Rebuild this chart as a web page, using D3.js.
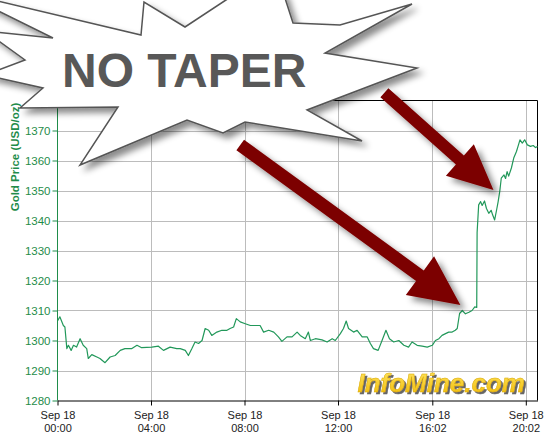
<!DOCTYPE html>
<html>
<head>
<meta charset="utf-8">
<script src="https://cdn.jsdelivr.net/npm/d3@7"></script>
<style>
  body { margin: 0; background: #fff; }
  svg { display: block; font-family: "Liberation Sans", Arial, sans-serif; }
</style>
</head>
<body>
<svg id="chart" width="560" height="437"></svg>
<script>
// gold price, Sep 18 (USD/oz)
var day = "2013-09-18";
var times = ["00:00","00:06","00:15","00:19","00:24","00:28","00:35","00:41","00:49","00:58",
  "01:06","01:15","01:19","01:28","01:41","01:49","02:02","02:15","02:28","02:41","02:53",
  "03:11","03:24","03:36","04:02","04:19","04:32","04:49","05:06","05:15","05:28","05:36",
  "05:45","05:53","06:02","06:11","06:19","06:28","06:36","06:49","07:02","07:15","07:23",
  "07:32","07:39","07:49","08:02","08:15","08:27","08:40","08:49","09:02","09:15","09:27",
  "09:36","09:49","10:02","10:15","10:23","10:36","10:44","10:49","11:02","11:19","11:32",
  "11:45","11:53","12:06","12:14","12:21","12:27","12:40","12:49","13:02","13:15","13:23",
  "13:31","13:43","13:53","14:03","14:12","14:23","14:36","14:49","15:01","15:10","15:23",
  "15:36","15:49","16:02","16:10","16:19","16:27","16:36","16:44","16:53","17:01","17:06",
  "17:12","17:19","17:27","17:36","17:44","17:51","17:56","17:57","18:01","18:06","18:10",
  "18:16","18:21","18:27","18:33","18:37","18:42","18:47","18:51","18:55","18:59","19:06",
  "19:10","19:14","19:18","19:25","19:31","19:38","19:42","19:47","19:53","19:59","20:06",
  "20:14","20:21","20:27","20:32"];
var prices = [1306.5,1307.9,1305.0,1304.5,1297.3,1298.4,1296.7,1298.4,1297.8,1300.6,
  1298.4,1297.3,1294.0,1295.3,1294.5,1294.0,1292.6,1294.5,1295.0,1296.7,1297.3,
  1297.3,1298.4,1297.6,1297.8,1298.1,1296.7,1297.8,1297.3,1297.3,1296.7,1295.0,
  1297.3,1299.5,1299.0,1300.0,1304.0,1303.4,1301.7,1302.8,1303.4,1303.4,1304.0,
  1304.5,1307.3,1306.2,1305.6,1305.0,1305.0,1305.0,1302.8,1303.4,1302.8,1301.2,
  1299.7,1301.2,1301.2,1302.8,1301.7,1300.6,1302.8,1300.0,1300.6,1300.2,1299.5,
  1300.6,1300.0,1302.3,1304.0,1306.5,1304.0,1302.8,1303.4,1301.2,1301.2,1299.0,
  1297.3,1296.7,1300.0,1303.4,1300.6,1299.5,1300.0,1298.4,1297.8,1299.5,1298.4,
  1298.1,1297.8,1298.4,1300.0,1300.6,1301.7,1302.3,1302.8,1302.8,1303.4,1304.0,
  1309.0,1310.0,1308.9,1309.4,1310.0,1311.2,1311.0,1336.0,1345.2,1346.3,1345.0,
  1346.5,1344.0,1342.4,1343.4,1341.8,1340.2,1343.5,1346.3,1349.6,1354.1,1355.2,
  1354.0,1356.3,1354.8,1357.5,1360.8,1363.0,1364.7,1366.9,1365.8,1366.9,1365.2,
  1364.7,1365.0,1364.3,1364.7];
var timeTicks = ["00:00","04:00","08:00","12:00","16:02","20:02"];
var priceTicks = [1280,1290,1300,1310,1320,1330,1340,1350,1360,1370];

// arrows, in data units: [time, price]
var arrowStarts = [["07:49",1365.2],["13:59",1382.6]];
var arrowEnds = [["17:14",1311.8],["18:39",1350.2]];

// "no taper" starburst outline (page pixels)
var burst = [[-40,-8],[141,35],[144,2],[185,27],[238,-8],[283,-8],[293,23],[340,25],
  [412,4],[325,53],[417,68],[307,110],[362,141],[245,122],[223,133],[187,120],
  [80,165],[118,107],[20,108],[43,88],[-15,75],[25,60],[-15,31],[53,38]];

(function() {
  var parseTime = d3.timeParse("%Y-%m-%d %H:%M");
  function at(t) { return parseTime(day + " " + t); }

  var data = times.map(function(t, i) { return { date: at(t), price: prices[i] }; });

  var x0 = 57.5, x1 = 537.5, y0 = 100.5, y1 = 400.5;
  var green = "#1f8c4a";

  var svg = d3.select("#chart");
  var defs = svg.append("defs");

  var shadow = defs.append("filter").attr("id", "shadow")
    .attr("x", "-20%").attr("y", "-20%").attr("width", "140%").attr("height", "140%");
  shadow.append("feDropShadow").attr("dx", 5).attr("dy", 5).attr("stdDeviation", 3)
    .attr("flood-color", "#000").attr("flood-opacity", 0.45);

  var logoShadow = defs.append("filter").attr("id", "logoShadow")
    .attr("x", "-10%").attr("y", "-20%").attr("width", "120%").attr("height", "150%");
  logoShadow.append("feDropShadow").attr("dx", 2).attr("dy", 2).attr("stdDeviation", 0.4)
    .attr("flood-color", "#555").attr("flood-opacity", 0.9);

  var gold = defs.append("linearGradient").attr("id", "gold")
    .attr("x1", 0).attr("y1", 0).attr("x2", 0).attr("y2", 1);
  gold.append("stop").attr("offset", "0%").attr("stop-color", "#ffe766");
  gold.append("stop").attr("offset", "100%").attr("stop-color", "#f0b800");

  var x = d3.scaleTime()
    .domain(d3.extent(data, function(d) { return d.date; }))
    .range([x0, x1]);
  var y = d3.scaleLinear().domain([1280, 1380]).range([y1, y0]);

  // grid
  svg.append("g").selectAll("line")
    .data(priceTicks.slice(1))
    .enter().append("line")
    .attr("x1", x0).attr("x2", x1)
    .attr("y1", function(d) { return Math.round(y(d)) + 0.5; })
    .attr("y2", function(d) { return Math.round(y(d)) + 0.5; })
    .attr("stroke", "#bcbcbc");
  svg.append("g").selectAll("line")
    .data(timeTicks.slice(1))
    .enter().append("line")
    .attr("y1", y0).attr("y2", y1)
    .attr("x1", function(d) { return Math.round(x(at(d))) + 0.5; })
    .attr("x2", function(d) { return Math.round(x(at(d))) + 0.5; })
    .attr("stroke", "#bcbcbc");

  // frame top + right
  svg.append("path")
    .attr("d", "M" + x0 + "," + y0 + "H" + x1 + "V" + y1)
    .attr("fill", "none").attr("stroke", "#000");

  // price line
  svg.append("path")
    .datum(data)
    .attr("fill", "none")
    .attr("stroke", "#22985a")
    .attr("stroke-width", 1.2)
    .attr("stroke-linejoin", "round")
    .attr("d", d3.line()
      .x(function(d) { return x(d.date); })
      .y(function(d) { return y(d.price); }));

  // y axis
  var yAxis = svg.append("g")
    .attr("transform", "translate(" + x0 + ",0)")
    .call(d3.axisLeft(y).tickValues(priceTicks).tickFormat(d3.format("d"))
      .tickSize(5).tickPadding(2).tickSizeOuter(0));
  yAxis.select(".domain").attr("stroke", green).attr("d", "M0," + y1 + "V" + (y0 - 12));
  yAxis.selectAll(".tick line").attr("stroke", green);
  yAxis.selectAll(".tick text")
    .attr("fill", green)
    .style("font-size", "11.5px")
    .style("font-family", "'Liberation Sans', Arial, sans-serif");

  svg.append("text")
    .attr("transform", "translate(19,157) rotate(-90)")
    .attr("text-anchor", "middle")
    .attr("fill", green)
    .style("font-size", "11.5px")
    .style("font-weight", "bold")
    .text("Gold Price (USD/oz)");

  // x axis
  var xAxis = svg.append("g")
    .attr("transform", "translate(0," + y1 + ")")
    .call(d3.axisBottom(x).tickValues(timeTicks.map(at)).tickSize(5).tickSizeOuter(0)
      .tickFormat(""));
  xAxis.select(".domain").attr("stroke", "#000");
  xAxis.selectAll(".tick line").attr("stroke", "#000");
  xAxis.selectAll(".tick text").remove();
  var fmtDay = d3.timeFormat("%b %d"), fmtHour = d3.timeFormat("%H:%M");
  xAxis.selectAll(".tick").append("text")
    .attr("text-anchor", "middle")
    .attr("fill", "#222")
    .style("font-size", "11px")
    .style("font-family", "'Liberation Sans', Arial, sans-serif")
    .each(function(d) {
      var t = d3.select(this);
      t.append("tspan").attr("x", 0).attr("y", 18).text(fmtDay(d));
      t.append("tspan").attr("x", 0).attr("y", 31).text(fmtHour(d));
    });

  // logo
  svg.append("text")
    .attr("x", 525).attr("y", 392)
    .attr("text-anchor", "end")
    .attr("fill", "url(#gold)")
    .attr("stroke", "#d8a800").attr("stroke-width", 0.5)
    .attr("filter", "url(#logoShadow)")
    .style("font-size", "26px").style("font-weight", "bold").style("font-style", "italic")
    .text("InfoMine.com");

  // arrows
  function arrowPath(s, t, w, headLen, headHalf) {
    var dx = t[0] - s[0], dy = t[1] - s[1];
    var len = Math.sqrt(dx * dx + dy * dy);
    var ux = dx / len, uy = dy / len, nx = -uy, ny = ux;
    var bx = t[0] - ux * headLen, by = t[1] - uy * headLen;
    var pts = [
      [s[0] + nx * w / 2, s[1] + ny * w / 2],
      [bx + nx * w / 2, by + ny * w / 2],
      [bx + nx * headHalf, by + ny * headHalf],
      t,
      [bx - nx * headHalf, by - ny * headHalf],
      [bx - nx * w / 2, by - ny * w / 2],
      [s[0] - nx * w / 2, s[1] - ny * w / 2]
    ];
    return "M" + pts.join("L") + "Z";
  }
  var arrowSizes = [[13, 50, 24], [12, 45, 21]];
  svg.append("g").selectAll("path")
    .data(arrowStarts)
    .enter().append("path")
    .attr("fill", "#7c0000")
    .attr("filter", "url(#shadow)")
    .attr("d", function(d, i) {
      var s = [x(at(d[0])), y(d[1])];
      var e = [x(at(arrowEnds[i][0])), y(arrowEnds[i][1])];
      var sz = arrowSizes[i];
      return arrowPath(s, e, sz[0], sz[1], sz[2]);
    });

  // starburst + title
  svg.append("path")
    .attr("d", "M" + burst.join("L") + "Z")
    .attr("fill", "#fff")
    .attr("stroke", "#555")
    .attr("stroke-width", 1.5)
    .attr("filter", "url(#shadow)");

  svg.append("text")
    .attr("x", 62).attr("y", 87)
    .attr("fill", "#585858")
    .style("font-size", "48px")
    .style("font-weight", "bold")
    .text("NO TAPER");
})();
</script>
</body>
</html>
